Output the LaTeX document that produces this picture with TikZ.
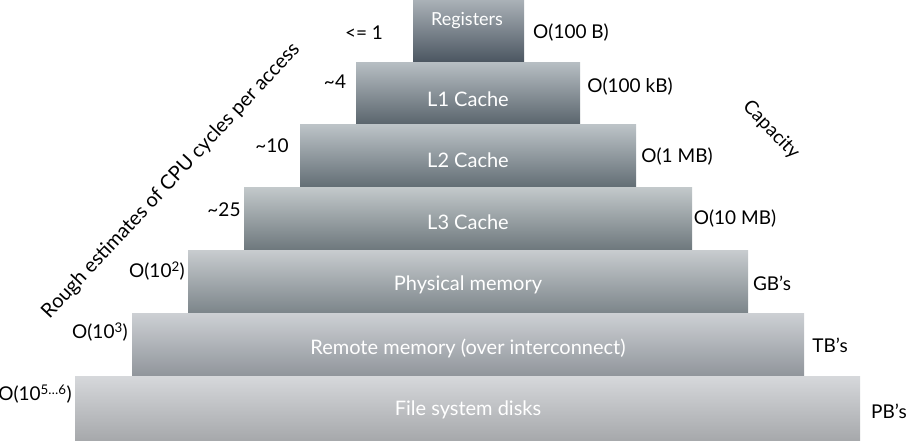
\documentclass[tikz,border=0pt]{standalone}
\usepackage{fontspec}
\setmainfont{Lato}
\begin{document}
\begin{tikzpicture}[x=1pt,y=-1pt,
  tier/.style={shade, draw=none, inner sep=0pt, outer sep=0pt, anchor=north west},
  tiertext/.style={text=white, font=\fontsize{20}{24}\selectfont, inner sep=0pt},
  lab/.style={text=black, font=\fontsize{19}{23}\selectfont, inner sep=0pt}]
\useasboundingbox (0,0) rectangle (907,441);

% memory hierarchy tiers, narrow and dark at the top, wide and light at the bottom
\node[tier, minimum width=111pt, minimum height=62pt, top color={rgb,255:red,170;green,177;blue,183}, bottom color={rgb,255:red,75;green,86;blue,97}] (reg) at (413,0) {};
\node[tier, minimum width=224pt, minimum height=61pt, top color={rgb,255:red,182;green,189;blue,194}, bottom color={rgb,255:red,90;green,101;blue,109}] (l1) at (356,63) {};
\node[tier, minimum width=336pt, minimum height=61pt, top color={rgb,255:red,188;green,195;blue,199}, bottom color={rgb,255:red,100;green,111;blue,118}] (l2) at (300,125) {};
\node[tier, minimum width=448pt, minimum height=62pt, top color={rgb,255:red,195;green,201;blue,203}, bottom color={rgb,255:red,111;green,121;blue,126}] (l3) at (244,187) {};
\node[tier, minimum width=560pt, minimum height=62pt, top color={rgb,255:red,200;green,204;blue,207}, bottom color={rgb,255:red,125;green,134;blue,139}] (phys) at (188,250) {};
\node[tier, minimum width=672pt, minimum height=62pt, top color={rgb,255:red,205;green,208;blue,212}, bottom color={rgb,255:red,145;green,150;blue,156}] (remote) at (132,313) {};
\node[tier, minimum width=785pt, minimum height=65pt, top color={rgb,255:red,214;green,216;blue,219}, bottom color={rgb,255:red,166;green,168;blue,171}] (disk) at (75,376) {};

% tier names
\node[tiertext, font=\fontsize{18}{21}\selectfont] (tReg) at (467,21) {Registers};
\node[tiertext] (tL1) at (468,99) {L1 Cache};
\node[tiertext] (tL2) at (468,160) {L2 Cache};
\node[tiertext] (tL3) at (468,222) {L3 Cache};
\node[tiertext] (tPhys) at (468,285) {Physical memory};
\node[tiertext] (tRemote) at (468,348) {Remote memory (over interconnect)};
\node[tiertext] (tDisk) at (468,410) {File system disks};

% access cost on the left
\node[lab] (cReg) at (364,33) {<= 1};
\node[lab] (cL1) at (335,82) {\textasciitilde 4};
\node[lab] (cL2) at (272,146) {\textasciitilde 10};
\node[lab] (cL3) at (224,210) {\textasciitilde 25};
\node[lab] (cPhys) at (157,271) {O(10\textsuperscript{2})};
\node[lab] (cRemote) at (100,332) {O(10\textsuperscript{3})};
\node[lab] (cDisk) at (35,394) {O(10\textsuperscript{5…6})};

% capacity on the right
\node[lab] (sReg) at (571,33) {O(100 B)};
\node[lab] (sL1) at (630,87) {O(100 kB)};
\node[lab] (sL2) at (677,157) {O(1 MB)};
\node[lab] (sL3) at (735,219) {O(10 MB)};
\node[lab] (sPhys) at (772,283) {GB’s};
\node[lab] (sRemote) at (830,345) {TB’s};
\node[lab] (sDisk) at (889,411) {PB’s};

% axis captions
\node[lab, font=\fontsize{20}{24}\selectfont, rotate=47] (costAxis) at (171,181) {Rough estimates of CPU cycles per access};
\node[lab, rotate=-46] (capAxis) at (771,130) {Capacity};
\end{tikzpicture}
\end{document}
